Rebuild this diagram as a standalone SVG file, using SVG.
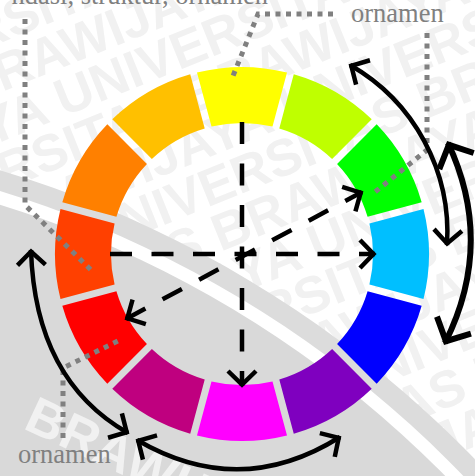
<svg xmlns="http://www.w3.org/2000/svg" xmlns:xlink="http://www.w3.org/1999/xlink" width="475" height="476" viewBox="0 0 475 476">
<style>
.dash{fill:none;stroke:#000;stroke-width:4.5;stroke-dasharray:22 19.5}
.arc{fill:none;stroke:#000;stroke-width:4.5}
.arcb{fill:none;stroke:#000;stroke-width:6}
.dot{fill:none;stroke:#808080;stroke-width:5;stroke-dasharray:5 5.5}
.lbl{font-family:"Liberation Serif","Times New Roman",serif;font-size:26.5px;fill:#808080}
.wm{font-family:"Liberation Sans",Arial,sans-serif;font-weight:bold;font-size:52px;fill:#f1f1f1}
</style>
<defs>
<path id="seg" d="M181.5,-45.01 A187,187 0 0 1 181.5,45.01 L127.4,30.51 A131,131 0 0 0 127.4,-30.51 Z"/>
<marker id="ah" markerUnits="userSpaceOnUse" viewBox="-24 -20 30 40" markerWidth="30" markerHeight="40" refX="0" refY="0" orient="auto-start-reverse" overflow="visible">
<path d="M-15,-14 L-1.5,0 L-15,14" fill="none" stroke="#000" stroke-width="4.5"/>
</marker>
<marker id="ahb" markerUnits="userSpaceOnUse" viewBox="-30 -26 36 52" markerWidth="36" markerHeight="52" refX="0" refY="0" orient="auto-start-reverse" overflow="visible">
<path d="M-20,-19 L-2,0 L-20,19" fill="none" stroke="#000" stroke-width="6"/>
</marker>
</defs>

<rect x="0" y="0" width="475" height="476" fill="#ffffff"/>

<g id="watermark" class="wm" transform="rotate(-22)">
<text x="-200" y="40">UNIVERSITAS BRAWIJAYA UNIVERSITAS BRAWIJAYA</text>
<text x="-430" y="86">UNIVERSITAS BRAWIJAYA UNIVERSITAS BRAWIJAYA</text>
<text x="-660" y="132">UNIVERSITAS BRAWIJAYA UNIVERSITAS BRAWIJAYA</text>
<text x="-225" y="178">UNIVERSITAS BRAWIJAYA UNIVERSITAS BRAWIJAYA</text>
<text x="-455" y="224">UNIVERSITAS BRAWIJAYA UNIVERSITAS BRAWIJAYA</text>
<text x="-685" y="270">UNIVERSITAS BRAWIJAYA UNIVERSITAS BRAWIJAYA</text>
<text x="-250" y="316">UNIVERSITAS BRAWIJAYA UNIVERSITAS BRAWIJAYA</text>
<text x="-480" y="362">UNIVERSITAS BRAWIJAYA UNIVERSITAS BRAWIJAYA</text>
<text x="-710" y="408">UNIVERSITAS BRAWIJAYA UNIVERSITAS BRAWIJAYA</text>
<text x="-275" y="454">UNIVERSITAS BRAWIJAYA UNIVERSITAS BRAWIJAYA</text>
<text x="-505" y="500">UNIVERSITAS BRAWIJAYA UNIVERSITAS BRAWIJAYA</text>
<text x="-735" y="546">UNIVERSITAS BRAWIJAYA UNIVERSITAS BRAWIJAYA</text>
<text x="-300" y="592">UNIVERSITAS BRAWIJAYA UNIVERSITAS BRAWIJAYA</text>
</g>

<g id="band">
<circle cx="-320" cy="1231" r="1108" fill="#dcdcdc"/>
<circle cx="-320" cy="1231" r="1088" fill="#ffffff"/>
<circle cx="-320" cy="1231" r="1075" fill="#d9d9d9"/>
<text class="wm" x="22" y="428" font-size="56" transform="rotate(25 22 428)">BRAWIJAYA</text>
</g>

<g id="wheel" transform="translate(242,254)">
<g id="seg-cyan"><use xlink:href="#seg" href="#seg" fill="#00bfff"/></g>
<g id="seg-blue"><use xlink:href="#seg" href="#seg" transform="rotate(30)" fill="#0000ff"/></g>
<g id="seg-violet"><use xlink:href="#seg" href="#seg" transform="rotate(60)" fill="#7f00bf"/></g>
<g id="seg-magenta"><use xlink:href="#seg" href="#seg" transform="rotate(90)" fill="#ff00ff"/></g>
<g id="seg-purple"><use xlink:href="#seg" href="#seg" transform="rotate(120)" fill="#bf007f"/></g>
<g id="seg-red"><use xlink:href="#seg" href="#seg" transform="rotate(150)" fill="#ff0000"/></g>
<g id="seg-redorange"><use xlink:href="#seg" href="#seg" transform="rotate(180)" fill="#ff4000"/></g>
<g id="seg-orange"><use xlink:href="#seg" href="#seg" transform="rotate(210)" fill="#ff8000"/></g>
<g id="seg-yelloworange"><use xlink:href="#seg" href="#seg" transform="rotate(240)" fill="#ffc000"/></g>
<g id="seg-yellow"><use xlink:href="#seg" href="#seg" transform="rotate(270)" fill="#ffff00"/></g>
<g id="seg-yellowgreen"><use xlink:href="#seg" href="#seg" transform="rotate(300)" fill="#bfff00"/></g>
<g id="seg-green"><use xlink:href="#seg" href="#seg" transform="rotate(330)" fill="#00ff00"/></g>
</g>

<g id="leaders">
<path class="dot" d="M25,19 L25,205 L91,270"/>
<path class="dot" d="M333,14 L258,14 L233,76"/>
<path class="dot" d="M427,33 L427,150 L375,192"/>
<path class="dot" d="M63,438 L63,368 L120,340"/>
</g>

<g id="connectors">
<path class="dash" d="M110,254 L375,254" marker-end="url(#ah)"/>
<path class="dash" d="M242,122 L242,386" marker-end="url(#ah)"/>
<path class="dash" d="M126,319 L362,192" marker-start="url(#ah)" marker-end="url(#ah)"/>
<path class="arc" d="M350,65 A193,193 0 0 1 447,245" marker-start="url(#ah)" marker-end="url(#ah)"/>
<path class="arcb" d="M448,143 Q495,243 445,343" marker-start="url(#ahb)" marker-end="url(#ahb)"/>
<path class="arc" d="M31,250 Q35,380 128,433" marker-start="url(#ah)" marker-end="url(#ah)"/>
<path class="arc" d="M137,440 Q240,500 340,437" marker-start="url(#ah)" marker-end="url(#ah)"/>
</g>

<g id="labels">
<text class="lbl" x="268" y="4" text-anchor="end">ndasi, struktur, ornamen</text>
<text class="lbl" x="351" y="22">ornamen</text>
<text class="lbl" x="18" y="463">ornamen</text>
</g>
</svg>
